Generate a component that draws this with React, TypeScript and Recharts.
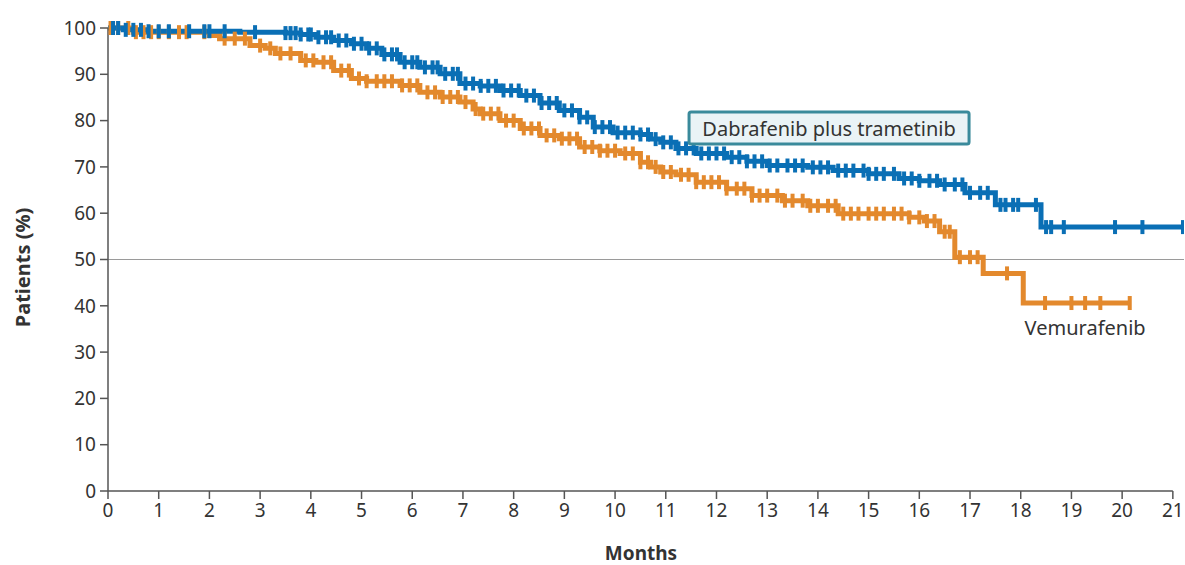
import React from "react";
import {
  ComposedChart,
  Line,
  Scatter,
  XAxis,
  YAxis,
  ReferenceLine,
  ReferenceDot,
} from "recharts";

// Kaplan-Meier step points: [month, percent]
const dabTimes = [0, 0.3, 0.8, 2.6, 3.5, 3.8, 4.1, 4.45, 4.8, 5.1, 5.4, 5.76, 6.15, 6.55, 6.94, 7.34, 7.73, 8.13, 8.52, 8.9, 9.3, 9.57, 9.96, 10.5, 10.7, 10.9, 11.2, 11.6, 12.2, 12.6, 13.0, 13.8, 14.3, 15.0, 15.6, 16.0, 16.4, 16.9, 17.5, 18.4, 21.22];
const dabValues = [100, 99.6, 99.3, 99.1, 98.9, 98.6, 98.0, 97.3, 96.6, 95.6, 94.3, 92.6, 91.5, 90.1, 88.0, 87.5, 86.5, 85.4, 83.8, 82.2, 80.7, 78.6, 77.4, 77.0, 76.0, 75.3, 74.0, 72.9, 72.1, 71.2, 70.3, 69.9, 69.2, 68.5, 67.5, 67.0, 66.2, 64.4, 61.8, 57.0, 57.0];
const dabCensored = [0.1, 0.2, 0.35, 0.5, 0.65, 0.8, 1.0, 1.2, 1.6, 1.9, 2.0, 2.3, 2.9, 3.5, 3.6, 3.7, 3.8, 3.95, 4.0, 4.15, 4.3, 4.4, 4.55, 4.7, 4.85, 5.0, 5.15, 5.3, 5.45, 5.6, 5.7, 5.85, 6.0, 6.1, 6.25, 6.4, 6.5, 6.65, 6.8, 6.9, 7.05, 7.2, 7.35, 7.5, 7.65, 7.8, 7.95, 8.1, 8.25, 8.4, 8.55, 8.7, 8.85, 9.0, 9.15, 9.3, 9.45, 9.6, 9.75, 9.9, 10.05, 10.2, 10.35, 10.5, 10.65, 10.8, 10.95, 11.1, 11.25, 11.4, 11.55, 11.7, 11.85, 12.0, 12.15, 12.3, 12.45, 12.6, 12.75, 12.9, 13.05, 13.2, 13.4, 13.55, 13.7, 13.9, 14.05, 14.2, 14.4, 14.55, 14.7, 14.9, 15.0, 15.15, 15.3, 15.5, 15.7, 15.85, 16.0, 16.2, 16.35, 16.5, 16.7, 16.85, 17.0, 17.2, 17.35, 17.6, 17.7, 17.85, 17.95, 18.3, 18.5, 18.6, 18.85, 19.86, 20.4, 21.2];

const vemTimes = [0, 0.5, 2.0, 2.2, 2.8, 3.1, 3.3, 3.8, 4.1, 4.45, 4.8, 5.1, 5.76, 6.15, 6.55, 6.94, 7.2, 7.34, 7.73, 8.13, 8.52, 8.9, 9.3, 9.7, 10.1, 10.5, 10.7, 10.9, 11.2, 11.6, 12.2, 12.7, 13.3, 13.8, 14.4, 15.8, 16.1, 16.4, 16.7, 17.26, 18.05, 20.15];
const vemValues = [100, 99.1, 98.4, 97.7, 96.2, 95.6, 94.5, 93.0, 92.6, 90.8, 89.1, 88.5, 87.6, 86.1, 85.1, 84.0, 82.5, 81.5, 80.0, 78.3, 76.8, 76.1, 74.3, 73.5, 72.9, 71.0, 70.0, 68.9, 68.3, 66.7, 65.3, 63.8, 62.7, 61.6, 59.9, 59.1, 58.3, 56.0, 50.5, 47.0, 40.6, 40.6];
const vemCensored = [0.05, 0.2, 0.4, 0.55, 0.7, 0.85, 1.0, 1.2, 1.4, 1.55, 1.9, 2.3, 2.5, 2.7, 3.0, 3.2, 3.4, 3.6, 3.9, 4.05, 4.25, 4.4, 4.6, 4.75, 4.95, 5.1, 5.3, 5.45, 5.6, 5.8, 5.95, 6.1, 6.3, 6.45, 6.6, 6.75, 6.9, 7.05, 7.25, 7.4, 7.55, 7.7, 7.85, 8.0, 8.2, 8.35, 8.5, 8.65, 8.8, 8.95, 9.1, 9.25, 9.4, 9.55, 9.7, 9.85, 10.0, 10.2, 10.35, 10.5, 10.65, 10.8, 10.95, 11.1, 11.3, 11.45, 11.6, 11.75, 11.9, 12.05, 12.2, 12.4, 12.55, 12.7, 12.85, 13.0, 13.2, 13.35, 13.5, 13.7, 13.85, 14.0, 14.2, 14.35, 14.5, 14.65, 14.8, 15.0, 15.15, 15.3, 15.5, 15.65, 15.8, 16.0, 16.15, 16.3, 16.5, 16.6, 16.8, 17.0, 17.15, 17.73, 18.48, 19.0, 19.27, 19.57, 20.15];

const xTicks = [0, 1, 2, 3, 4, 5, 6, 7, 8, 9, 10, 11, 12, 13, 14, 15, 16, 17, 18, 19, 20, 21];
const yTicks = [0, 10, 20, 30, 40, 50, 60, 70, 80, 90, 100];

const DAB_COLOR = "#0a6fb5";
const VEM_COLOR = "#e3892d";
const TEXT_COLOR = "#333333";
const FONT = "'Noto Sans', 'Open Sans', sans-serif";

const toSeries = (times: number[], values: number[]) =>
  times.map((t, i) => ({ t, v: values[i] }));

const stepValueAt = (times: number[], values: number[], t: number) => {
  let v = values[0];
  for (let i = 0; i < times.length; i++) {
    if (times[i] <= t) v = values[i];
  }
  return v;
};

const censorPoints = (times: number[], values: number[], cens: number[]) =>
  cens.map((t) => ({ t, v: stepValueAt(times, values, t) }));

const dabData = toSeries(dabTimes, dabValues);
const vemData = toSeries(vemTimes, vemValues);
const dabCens = censorPoints(dabTimes, dabValues, dabCensored);
const vemCens = censorPoints(vemTimes, vemValues, vemCensored);

const makeTick = (color: string) => (props: any) => {
  const { cx, cy } = props;
  if (cx == null || cy == null) return <g />;
  return <rect x={cx - 2} y={cy - 7} width={4} height={14} fill={color} />;
};

const DabLabel = (props: any) => {
  const { cx, cy } = props;
  return (
    <g>
      <rect
        x={cx - 140}
        y={cy - 16}
        width={280}
        height={32}
        rx={2}
        fill="#eaf3f6"
        stroke="#3a8a9b"
        strokeWidth={3}
      />
      <text
        x={cx}
        y={cy}
        textAnchor="middle"
        dominantBaseline="central"
        fontSize={20}
        fontFamily={FONT}
        fill={TEXT_COLOR}
      >
        Dabrafenib plus trametinib
      </text>
    </g>
  );
};

const VemLabel = (props: any) => {
  const { cx, cy } = props;
  return (
    <text
      x={cx}
      y={cy}
      textAnchor="middle"
      dominantBaseline="central"
      fontSize={20}
      fontFamily={FONT}
      fill={TEXT_COLOR}
    >
      Vemurafenib
    </text>
  );
};

export default function App() {
  return (
    <div style={{ position: "absolute", left: 0, top: 0, background: "#fff" }}>
      <ComposedChart
        width={1185}
        height={565}
        margin={{ top: 28, right: 1, bottom: 44, left: 48 }}
      >
        <XAxis
          dataKey="t"
          type="number"
          domain={[0, 21.22]}
          ticks={xTicks}
          allowDataOverflow
          axisLine={false}
          tickLine={{ stroke: "#555", strokeWidth: 1.5 }}
          tickSize={8}
          tickMargin={5}
          interval={0}
          tick={{ fill: TEXT_COLOR, fontSize: 19, fontFamily: FONT }}
          height={30}
          label={{
            content: (p: any) => {
              const vb = p.viewBox;
              return (
                <text
                  x={vb.x + vb.width / 2 - 5}
                  y={553}
                  textAnchor="middle"
                  dominantBaseline="central"
                  fontSize={19}
                  fontWeight="bold"
                  fontFamily={FONT}
                  fill={TEXT_COLOR}
                >
                  Months
                </text>
              );
            },
          }}
        />
        <YAxis
          dataKey="v"
          type="number"
          domain={[0, 100]}
          ticks={yTicks}
          width={60}
          axisLine={{ stroke: "#555", strokeWidth: 1.5 }}
          tickLine={{ stroke: "#555", strokeWidth: 1.5 }}
          tickSize={8}
          tickMargin={4}
          interval={0}
          tick={{ fill: TEXT_COLOR, fontSize: 19, fontFamily: FONT }}
          label={{
            content: (p: any) => {
              const vb = p.viewBox;
              const cx = 22;
              const cy = vb.y + vb.height / 2 + 8;
              return (
                <text
                  x={cx}
                  y={cy}
                  transform={`rotate(-90, ${cx}, ${cy})`}
                  textAnchor="middle"
                  dominantBaseline="central"
                  fontSize={20}
                  fontWeight="bold"
                  fontFamily={FONT}
                  fill={TEXT_COLOR}
                >
                  Patients (%)
                </text>
              );
            },
          }}
        />
        <ReferenceLine y={50} stroke="#9a9a9a" strokeWidth={1} />
        <ReferenceLine
          segment={[
            { x: 0, y: 0 },
            { x: 21, y: 0 },
          ]}
          stroke="#555"
          strokeWidth={1.5}
        />
        <Line
          data={vemData}
          dataKey="v"
          type="stepAfter"
          stroke={VEM_COLOR}
          strokeWidth={5}
          dot={false}
          activeDot={false}
          isAnimationActive={false}
        />
        <Scatter
          data={vemCens}
          dataKey="v"
          fill={VEM_COLOR}
          shape={makeTick(VEM_COLOR)}
          isAnimationActive={false}
        />
        <Line
          data={dabData}
          dataKey="v"
          type="stepAfter"
          stroke={DAB_COLOR}
          strokeWidth={5}
          dot={false}
          activeDot={false}
          isAnimationActive={false}
        />
        <Scatter
          data={dabCens}
          dataKey="v"
          fill={DAB_COLOR}
          shape={makeTick(DAB_COLOR)}
          isAnimationActive={false}
        />
        <ReferenceDot x={14.22} y={78.4} r={0} shape={DabLabel} />
        <ReferenceDot x={19.27} y={35.3} r={0} shape={VemLabel} />
      </ComposedChart>
    </div>
  );
}
